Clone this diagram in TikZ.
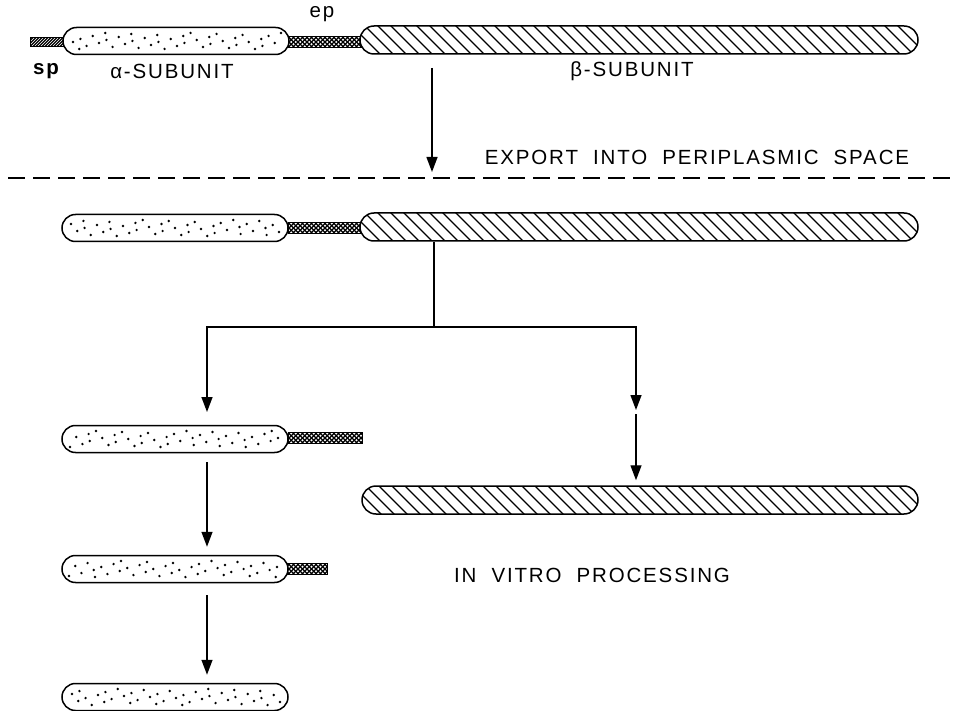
\documentclass[tikz,border=0pt]{standalone}
\usepackage{fontspec}
\setmainfont{Liberation Sans}[LetterSpace=9]
\usetikzlibrary{arrows.meta,calc}
\begin{document}
\begin{tikzpicture}[x=1pt,y=-1pt,
  outl/.style={draw=black, line width=1.5pt},
  alphabar/.style={outl, fill=white, rounded corners=13.5pt, minimum width=226pt, minimum height=27pt, inner sep=0pt,
    path picture={
      \foreach \i in {0,...,40}{
        \pgfmathsetmacro\rx{-104+\i*5.2+mod(\i*11+#1,5)-2}
        \pgfmathsetmacro\ry{mod(\i*7+#1*3,17)-8}
        \fill[black] ([shift={(\rx,\ry)}]path picture bounding box.center) circle (1.35pt);}}},
  betabar/.style={outl, fill=white, rounded corners=14pt, minimum width=#1, minimum height=28pt, inner sep=0pt,
    path picture={
      \foreach \k in {-25,...,25}{
        \draw[black, line width=1.1pt] ([shift={(\k*13-20,-20)}]path picture bounding box.center) -- ++(40,40);}}},
  eppat/.style={draw=black, fill=white, line width=1pt, minimum width=#1, minimum height=11pt, inner sep=0pt,
    path picture={
      \foreach \k in {-12,...,12}{
        \draw[black, line width=1.2pt] ([shift={(\k*4.5-6,-6)}]path picture bounding box.center) -- ++(12,12);
        \draw[black, line width=1.2pt] ([shift={(\k*4.5-6,6)}]path picture bounding box.center) -- ++(12,-12);}}},
  sppat/.style={draw=black, fill=white, line width=1pt, minimum width=33pt, minimum height=9pt, inner sep=0pt,
    path picture={
      \foreach \k in {-8,...,8}{
        \draw[black, line width=1.3pt] ([shift={(\k*3-6,6)}]path picture bounding box.center) -- ++(12,-12);}}},
  arr/.style={line width=1.4pt, -{Triangle[length=15pt,width=11pt]}},
  conn/.style={line width=1.4pt},
  lbl/.style={inner sep=0pt, font=\fontsize{20.5}{24}\selectfont},
]
\useasboundingbox (0,0) rectangle (956,711);

% row 1
\node[sppat] (sp1) at (46.5,42) {};
\node[eppat=74pt] (ep1) at (325,42) {};
\node[alphabar=3] (a1) at (176,41) {};
\node[betabar=558pt] (b1) at (639,40) {};
\node[lbl, font=\fontsize{20.5}{24}\selectfont\bfseries] (lsp) at (46,71) {sp};
\node[lbl] (lalpha) at (172,71) {α-SUBUNIT};
\node[lbl] (lep) at (322,14) {ep};
\node[lbl] (lbeta) at (632,71) {β-SUBUNIT};
\node[lbl] (lexport) at (697,157) {EXPORT\ \ INTO\ \ PERIPLASMIC\ \ SPACE};

% export arrow and membrane
\coordinate (t1) at (432,68);
\coordinate (d1) at (432,172);
\draw[arr] (t1) -- (d1);
\draw[line width=2pt, dash pattern=on 17pt off 8pt] (8,178) coordinate (dl) -- (956,178) coordinate (dr);

% row 2
\node[eppat=74pt] (ep2) at (325,228) {};
\node[alphabar=7] (a2) at (175,228) {};
\node[betabar=558pt] (b2) at (639,227) {};

% fork
\coordinate (fork) at (434,327);
\coordinate (lt) at (207,412);
\coordinate (rt) at (636,410);
\draw[conn] (b2.south -| fork) -- (fork);
\draw[arr] (fork) -| (lt);
\draw[arr] (fork) -| (rt);

% row 3
\node[eppat=74pt] (ep3) at (325,438) {};
\node[alphabar=11] (a3) at (175,439) {};
\node[betabar=556pt] (b3) at (640,500) {};
\coordinate (rt2) at (636,414);
\draw[arr, shorten >=5pt] (rt2) -- (b3.north -| rt2);

\node[lbl] (lvitro) at (592,575) {IN\ \ VITRO\ \ PROCESSING};

% row 4
\node[eppat=40pt] (ep4) at (307,569) {};
\node[alphabar=5] (a4) at (175,569) {};
\draw[arr, shorten <=9pt, shorten >=8pt] (a3.south -| lt) -- (a4.north -| lt);

% row 5
\node[alphabar=13] (a5) at (175,697) {};
\draw[arr, shorten <=12pt, shorten >=8pt] (a4.south -| lt) -- (a5.north -| lt);
\end{tikzpicture}
\end{document}
